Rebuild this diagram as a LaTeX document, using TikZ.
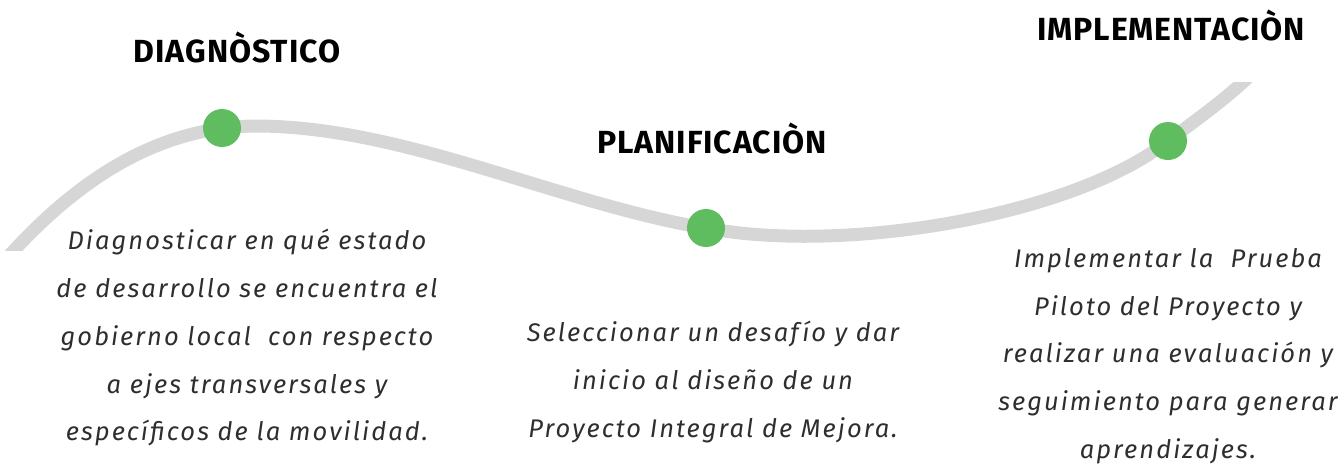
\documentclass[tikz,border=0pt]{standalone}
\usepackage{fontspec}
\setmainfont{Fira Sans}
\newfontfamily\titlefont{Fira Sans}[UprightFont=* Bold, LetterSpace=3]
\newfontfamily\bodyfont{Fira Sans}[UprightFont=* Italic, LetterSpace=8]
\definecolor{linegray}{HTML}{D6D6D6}
\definecolor{dotgreen}{HTML}{5FBD5F}
\definecolor{txt}{HTML}{2E2E2E}
\begin{document}
\begin{tikzpicture}[x=1pt,y=-1pt,
  title/.style={font=\titlefont\fontsize{32}{34}\selectfont, text=black, inner sep=0pt},
  body/.style={font=\bodyfont\fontsize{25.5}{47.8}\selectfont, text=txt, align=center, inner sep=0pt},
  dot/.style={circle, fill=dotgreen, minimum size=38pt, inner sep=0pt}]
\useasboundingbox (0,0) rectangle (1340,464);
\begin{scope}
\clip (-20,82) rectangle (1360,250);
\draw[linegray, line width=13pt]
  (-20,290) .. controls (60,190) and (150,125) .. (260,126)
  .. controls (420,128) and (580,215) .. (740,233)
  .. controls (880,248) and (1080,210) .. (1168,141)
  .. controls (1210,110) and (1240,88) .. (1265,60);
\end{scope}
\node[dot] (d1) at (222,128) {};
\node[dot] (d2) at (706,228) {};
\node[dot] (d3) at (1168,141) {};
\node[title] (t1) at (237,47) {DIAGNÒSTICO};
\node[title] (t2) at (712,138) {PLANIFICACIÒN};
\node[title] (t3) at (1171,25) {IMPLEMENTACIÒN};
\node[body, anchor=north] (b1) at (247,229) {Diagnosticar en qué estado\\de desarrollo se encuentra el\\gobierno local\ \ con respecto\\a ejes transversales y\\específicos de la movilidad.};
\node[body, anchor=north] (b2) at (713,321) {Seleccionar un desafío y dar\\inicio al diseño de un\\Proyecto Integral de Mejora.};
\node[body, anchor=north] (b3) at (1168,248) {Implementar la\ \ Prueba\\Piloto del Proyecto y\\realizar una evaluación y\\seguimiento para generar\\aprendizajes.};
\end{tikzpicture}
\end{document}
